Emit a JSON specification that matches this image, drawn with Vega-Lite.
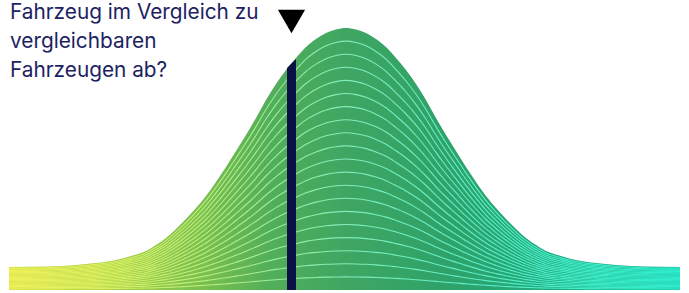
{
  "$schema": "https://vega.github.io/schema/vega-lite/v6.json",
  "autosize": "none",
  "width": 689,
  "height": 290,
  "padding": {"left": 0, "top": 0, "right": 0, "bottom": 3},
  "background": "white",
  "config": {"view": {"stroke": null}},
  "datasets": {
    "curve": [
      {"x": 9, "h": 23}, {"x": 46, "h": 23.5}, {"x": 76, "h": 25}, {"x": 96, "h": 27}, {"x": 116, "h": 30},
      {"x": 131, "h": 34}, {"x": 146, "h": 39}, {"x": 156, "h": 45}, {"x": 166, "h": 52}, {"x": 176, "h": 61},
      {"x": 186, "h": 71}, {"x": 196, "h": 82}, {"x": 206, "h": 94}, {"x": 216, "h": 108}, {"x": 226, "h": 123},
      {"x": 236, "h": 139}, {"x": 246, "h": 155}, {"x": 256, "h": 172}, {"x": 266, "h": 190}, {"x": 276, "h": 206},
      {"x": 286, "h": 220}, {"x": 296, "h": 232}, {"x": 306, "h": 243}, {"x": 316, "h": 251}, {"x": 326, "h": 257},
      {"x": 336, "h": 260.5}, {"x": 346, "h": 262}, {"x": 356, "h": 260.5}, {"x": 366, "h": 257}, {"x": 376, "h": 251},
      {"x": 386, "h": 243}, {"x": 396, "h": 232}, {"x": 406, "h": 220}, {"x": 416, "h": 206}, {"x": 426, "h": 190},
      {"x": 436, "h": 172}, {"x": 446, "h": 155}, {"x": 456, "h": 139}, {"x": 466, "h": 123}, {"x": 476, "h": 108},
      {"x": 486, "h": 94}, {"x": 496, "h": 82}, {"x": 506, "h": 71}, {"x": 516, "h": 61}, {"x": 526, "h": 52},
      {"x": 536, "h": 45}, {"x": 546, "h": 39}, {"x": 561, "h": 34}, {"x": 576, "h": 30}, {"x": 596, "h": 27},
      {"x": 616, "h": 25}, {"x": 646, "h": 23.5}, {"x": 680, "h": 23}
    ],
    "bar": [{"x": 287, "h": 222}, {"x": 296, "h": 231}],
    "marker": [{"x": 291.5, "label": "Fahrzeug im Vergleich zu|vergleichbaren|Fahrzeugen ab?"}]
  },
  "encoding": {
    "x": {"field": "x", "type": "quantitative", "scale": {"domain": [0, 689], "nice": false, "zero": false}, "axis": null}
  },
  "layer": [
    {
      "data": {"name": "curve"},
      "mark": {"type": "area", "interpolate": "monotone", "color": {"gradient": "linear", "x1": 0, "x2": 1, "y1": 0, "y2": 0, "stops": [
        {"offset": 0, "color": "#cadc40"}, {"offset": 0.136, "color": "#acd046"}, {"offset": 0.285, "color": "#7cc050"},
        {"offset": 0.39, "color": "#52ae5a"}, {"offset": 0.5, "color": "#3fa662"}, {"offset": 0.655, "color": "#2ea26a"},
        {"offset": 0.82, "color": "#22aa80"}, {"offset": 1, "color": "#1cbc9c"}]}},
      "encoding": {"y": {"field": "h", "type": "quantitative", "scale": {"domain": [0, 290], "nice": false}, "axis": null}}
    },
    {"data": {"name": "curve"}, "mark": {"type": "line", "interpolate": "monotone", "strokeWidth": 1.1, "stroke": {"gradient": "linear", "x1": 0, "x2": 1, "y1": 0, "y2": 0, "stops": [{"offset": 0, "color": "#eef05a"}, {"offset": 0.15, "color": "#daf060"}, {"offset": 0.3, "color": "#b8ee7c"}, {"offset": 0.4, "color": "#9cec9c"}, {"offset": 0.5, "color": "#80ecb8"}, {"offset": 0.65, "color": "#64eec4"}, {"offset": 0.82, "color": "#44eec8"}, {"offset": 1, "color": "#2ceccc"}]}}, "encoding": {"y": {"field": "h", "type": "quantitative", "scale": {"domain": [0, 5800], "nice": false}, "axis": null}}},
    {"data": {"name": "curve"}, "mark": {"type": "line", "interpolate": "monotone", "strokeWidth": 1.1, "stroke": {"gradient": "linear", "x1": 0, "x2": 1, "y1": 0, "y2": 0, "stops": [{"offset": 0, "color": "#eef05a"}, {"offset": 0.15, "color": "#daf060"}, {"offset": 0.3, "color": "#b8ee7c"}, {"offset": 0.4, "color": "#9cec9c"}, {"offset": 0.5, "color": "#80ecb8"}, {"offset": 0.65, "color": "#64eec4"}, {"offset": 0.82, "color": "#44eec8"}, {"offset": 1, "color": "#2ceccc"}]}}, "encoding": {"y": {"field": "h", "type": "quantitative", "scale": {"domain": [0, 2900], "nice": false}, "axis": null}}},
    {"data": {"name": "curve"}, "mark": {"type": "line", "interpolate": "monotone", "strokeWidth": 1.1, "stroke": {"gradient": "linear", "x1": 0, "x2": 1, "y1": 0, "y2": 0, "stops": [{"offset": 0, "color": "#eef05a"}, {"offset": 0.15, "color": "#daf060"}, {"offset": 0.3, "color": "#b8ee7c"}, {"offset": 0.4, "color": "#9cec9c"}, {"offset": 0.5, "color": "#80ecb8"}, {"offset": 0.65, "color": "#64eec4"}, {"offset": 0.82, "color": "#44eec8"}, {"offset": 1, "color": "#2ceccc"}]}}, "encoding": {"y": {"field": "h", "type": "quantitative", "scale": {"domain": [0, 1933.33], "nice": false}, "axis": null}}},
    {"data": {"name": "curve"}, "mark": {"type": "line", "interpolate": "monotone", "strokeWidth": 1.1, "stroke": {"gradient": "linear", "x1": 0, "x2": 1, "y1": 0, "y2": 0, "stops": [{"offset": 0, "color": "#eef05a"}, {"offset": 0.15, "color": "#daf060"}, {"offset": 0.3, "color": "#b8ee7c"}, {"offset": 0.4, "color": "#9cec9c"}, {"offset": 0.5, "color": "#80ecb8"}, {"offset": 0.65, "color": "#64eec4"}, {"offset": 0.82, "color": "#44eec8"}, {"offset": 1, "color": "#2ceccc"}]}}, "encoding": {"y": {"field": "h", "type": "quantitative", "scale": {"domain": [0, 1450], "nice": false}, "axis": null}}},
    {"data": {"name": "curve"}, "mark": {"type": "line", "interpolate": "monotone", "strokeWidth": 1.1, "stroke": {"gradient": "linear", "x1": 0, "x2": 1, "y1": 0, "y2": 0, "stops": [{"offset": 0, "color": "#eef05a"}, {"offset": 0.15, "color": "#daf060"}, {"offset": 0.3, "color": "#b8ee7c"}, {"offset": 0.4, "color": "#9cec9c"}, {"offset": 0.5, "color": "#80ecb8"}, {"offset": 0.65, "color": "#64eec4"}, {"offset": 0.82, "color": "#44eec8"}, {"offset": 1, "color": "#2ceccc"}]}}, "encoding": {"y": {"field": "h", "type": "quantitative", "scale": {"domain": [0, 1160], "nice": false}, "axis": null}}},
    {"data": {"name": "curve"}, "mark": {"type": "line", "interpolate": "monotone", "strokeWidth": 1.1, "stroke": {"gradient": "linear", "x1": 0, "x2": 1, "y1": 0, "y2": 0, "stops": [{"offset": 0, "color": "#eef05a"}, {"offset": 0.15, "color": "#daf060"}, {"offset": 0.3, "color": "#b8ee7c"}, {"offset": 0.4, "color": "#9cec9c"}, {"offset": 0.5, "color": "#80ecb8"}, {"offset": 0.65, "color": "#64eec4"}, {"offset": 0.82, "color": "#44eec8"}, {"offset": 1, "color": "#2ceccc"}]}}, "encoding": {"y": {"field": "h", "type": "quantitative", "scale": {"domain": [0, 966.67], "nice": false}, "axis": null}}},
    {"data": {"name": "curve"}, "mark": {"type": "line", "interpolate": "monotone", "strokeWidth": 1.1, "stroke": {"gradient": "linear", "x1": 0, "x2": 1, "y1": 0, "y2": 0, "stops": [{"offset": 0, "color": "#eef05a"}, {"offset": 0.15, "color": "#daf060"}, {"offset": 0.3, "color": "#b8ee7c"}, {"offset": 0.4, "color": "#9cec9c"}, {"offset": 0.5, "color": "#80ecb8"}, {"offset": 0.65, "color": "#64eec4"}, {"offset": 0.82, "color": "#44eec8"}, {"offset": 1, "color": "#2ceccc"}]}}, "encoding": {"y": {"field": "h", "type": "quantitative", "scale": {"domain": [0, 828.57], "nice": false}, "axis": null}}},
    {"data": {"name": "curve"}, "mark": {"type": "line", "interpolate": "monotone", "strokeWidth": 1.1, "stroke": {"gradient": "linear", "x1": 0, "x2": 1, "y1": 0, "y2": 0, "stops": [{"offset": 0, "color": "#eef05a"}, {"offset": 0.15, "color": "#daf060"}, {"offset": 0.3, "color": "#b8ee7c"}, {"offset": 0.4, "color": "#9cec9c"}, {"offset": 0.5, "color": "#80ecb8"}, {"offset": 0.65, "color": "#64eec4"}, {"offset": 0.82, "color": "#44eec8"}, {"offset": 1, "color": "#2ceccc"}]}}, "encoding": {"y": {"field": "h", "type": "quantitative", "scale": {"domain": [0, 725], "nice": false}, "axis": null}}},
    {"data": {"name": "curve"}, "mark": {"type": "line", "interpolate": "monotone", "strokeWidth": 1.1, "stroke": {"gradient": "linear", "x1": 0, "x2": 1, "y1": 0, "y2": 0, "stops": [{"offset": 0, "color": "#eef05a"}, {"offset": 0.15, "color": "#daf060"}, {"offset": 0.3, "color": "#b8ee7c"}, {"offset": 0.4, "color": "#9cec9c"}, {"offset": 0.5, "color": "#80ecb8"}, {"offset": 0.65, "color": "#64eec4"}, {"offset": 0.82, "color": "#44eec8"}, {"offset": 1, "color": "#2ceccc"}]}}, "encoding": {"y": {"field": "h", "type": "quantitative", "scale": {"domain": [0, 644.44], "nice": false}, "axis": null}}},
    {"data": {"name": "curve"}, "mark": {"type": "line", "interpolate": "monotone", "strokeWidth": 1.1, "stroke": {"gradient": "linear", "x1": 0, "x2": 1, "y1": 0, "y2": 0, "stops": [{"offset": 0, "color": "#eef05a"}, {"offset": 0.15, "color": "#daf060"}, {"offset": 0.3, "color": "#b8ee7c"}, {"offset": 0.4, "color": "#9cec9c"}, {"offset": 0.5, "color": "#80ecb8"}, {"offset": 0.65, "color": "#64eec4"}, {"offset": 0.82, "color": "#44eec8"}, {"offset": 1, "color": "#2ceccc"}]}}, "encoding": {"y": {"field": "h", "type": "quantitative", "scale": {"domain": [0, 580], "nice": false}, "axis": null}}},
    {"data": {"name": "curve"}, "mark": {"type": "line", "interpolate": "monotone", "strokeWidth": 1.1, "stroke": {"gradient": "linear", "x1": 0, "x2": 1, "y1": 0, "y2": 0, "stops": [{"offset": 0, "color": "#eef05a"}, {"offset": 0.15, "color": "#daf060"}, {"offset": 0.3, "color": "#b8ee7c"}, {"offset": 0.4, "color": "#9cec9c"}, {"offset": 0.5, "color": "#80ecb8"}, {"offset": 0.65, "color": "#64eec4"}, {"offset": 0.82, "color": "#44eec8"}, {"offset": 1, "color": "#2ceccc"}]}}, "encoding": {"y": {"field": "h", "type": "quantitative", "scale": {"domain": [0, 527.27], "nice": false}, "axis": null}}},
    {"data": {"name": "curve"}, "mark": {"type": "line", "interpolate": "monotone", "strokeWidth": 1.1, "stroke": {"gradient": "linear", "x1": 0, "x2": 1, "y1": 0, "y2": 0, "stops": [{"offset": 0, "color": "#eef05a"}, {"offset": 0.15, "color": "#daf060"}, {"offset": 0.3, "color": "#b8ee7c"}, {"offset": 0.4, "color": "#9cec9c"}, {"offset": 0.5, "color": "#80ecb8"}, {"offset": 0.65, "color": "#64eec4"}, {"offset": 0.82, "color": "#44eec8"}, {"offset": 1, "color": "#2ceccc"}]}}, "encoding": {"y": {"field": "h", "type": "quantitative", "scale": {"domain": [0, 483.33], "nice": false}, "axis": null}}},
    {"data": {"name": "curve"}, "mark": {"type": "line", "interpolate": "monotone", "strokeWidth": 1.1, "stroke": {"gradient": "linear", "x1": 0, "x2": 1, "y1": 0, "y2": 0, "stops": [{"offset": 0, "color": "#eef05a"}, {"offset": 0.15, "color": "#daf060"}, {"offset": 0.3, "color": "#b8ee7c"}, {"offset": 0.4, "color": "#9cec9c"}, {"offset": 0.5, "color": "#80ecb8"}, {"offset": 0.65, "color": "#64eec4"}, {"offset": 0.82, "color": "#44eec8"}, {"offset": 1, "color": "#2ceccc"}]}}, "encoding": {"y": {"field": "h", "type": "quantitative", "scale": {"domain": [0, 446.15], "nice": false}, "axis": null}}},
    {"data": {"name": "curve"}, "mark": {"type": "line", "interpolate": "monotone", "strokeWidth": 1.1, "stroke": {"gradient": "linear", "x1": 0, "x2": 1, "y1": 0, "y2": 0, "stops": [{"offset": 0, "color": "#eef05a"}, {"offset": 0.15, "color": "#daf060"}, {"offset": 0.3, "color": "#b8ee7c"}, {"offset": 0.4, "color": "#9cec9c"}, {"offset": 0.5, "color": "#80ecb8"}, {"offset": 0.65, "color": "#64eec4"}, {"offset": 0.82, "color": "#44eec8"}, {"offset": 1, "color": "#2ceccc"}]}}, "encoding": {"y": {"field": "h", "type": "quantitative", "scale": {"domain": [0, 414.29], "nice": false}, "axis": null}}},
    {"data": {"name": "curve"}, "mark": {"type": "line", "interpolate": "monotone", "strokeWidth": 1.1, "stroke": {"gradient": "linear", "x1": 0, "x2": 1, "y1": 0, "y2": 0, "stops": [{"offset": 0, "color": "#eef05a"}, {"offset": 0.15, "color": "#daf060"}, {"offset": 0.3, "color": "#b8ee7c"}, {"offset": 0.4, "color": "#9cec9c"}, {"offset": 0.5, "color": "#80ecb8"}, {"offset": 0.65, "color": "#64eec4"}, {"offset": 0.82, "color": "#44eec8"}, {"offset": 1, "color": "#2ceccc"}]}}, "encoding": {"y": {"field": "h", "type": "quantitative", "scale": {"domain": [0, 386.67], "nice": false}, "axis": null}}},
    {"data": {"name": "curve"}, "mark": {"type": "line", "interpolate": "monotone", "strokeWidth": 1.1, "stroke": {"gradient": "linear", "x1": 0, "x2": 1, "y1": 0, "y2": 0, "stops": [{"offset": 0, "color": "#eef05a"}, {"offset": 0.15, "color": "#daf060"}, {"offset": 0.3, "color": "#b8ee7c"}, {"offset": 0.4, "color": "#9cec9c"}, {"offset": 0.5, "color": "#80ecb8"}, {"offset": 0.65, "color": "#64eec4"}, {"offset": 0.82, "color": "#44eec8"}, {"offset": 1, "color": "#2ceccc"}]}}, "encoding": {"y": {"field": "h", "type": "quantitative", "scale": {"domain": [0, 362.5], "nice": false}, "axis": null}}},
    {"data": {"name": "curve"}, "mark": {"type": "line", "interpolate": "monotone", "strokeWidth": 1.1, "stroke": {"gradient": "linear", "x1": 0, "x2": 1, "y1": 0, "y2": 0, "stops": [{"offset": 0, "color": "#eef05a"}, {"offset": 0.15, "color": "#daf060"}, {"offset": 0.3, "color": "#b8ee7c"}, {"offset": 0.4, "color": "#9cec9c"}, {"offset": 0.5, "color": "#80ecb8"}, {"offset": 0.65, "color": "#64eec4"}, {"offset": 0.82, "color": "#44eec8"}, {"offset": 1, "color": "#2ceccc"}]}}, "encoding": {"y": {"field": "h", "type": "quantitative", "scale": {"domain": [0, 341.18], "nice": false}, "axis": null}}},
    {"data": {"name": "curve"}, "mark": {"type": "line", "interpolate": "monotone", "strokeWidth": 1.1, "stroke": {"gradient": "linear", "x1": 0, "x2": 1, "y1": 0, "y2": 0, "stops": [{"offset": 0, "color": "#eef05a"}, {"offset": 0.15, "color": "#daf060"}, {"offset": 0.3, "color": "#b8ee7c"}, {"offset": 0.4, "color": "#9cec9c"}, {"offset": 0.5, "color": "#80ecb8"}, {"offset": 0.65, "color": "#64eec4"}, {"offset": 0.82, "color": "#44eec8"}, {"offset": 1, "color": "#2ceccc"}]}}, "encoding": {"y": {"field": "h", "type": "quantitative", "scale": {"domain": [0, 322.22], "nice": false}, "axis": null}}},
    {"data": {"name": "curve"}, "mark": {"type": "line", "interpolate": "monotone", "strokeWidth": 1.1, "stroke": {"gradient": "linear", "x1": 0, "x2": 1, "y1": 0, "y2": 0, "stops": [{"offset": 0, "color": "#eef05a"}, {"offset": 0.15, "color": "#daf060"}, {"offset": 0.3, "color": "#b8ee7c"}, {"offset": 0.4, "color": "#9cec9c"}, {"offset": 0.5, "color": "#80ecb8"}, {"offset": 0.65, "color": "#64eec4"}, {"offset": 0.82, "color": "#44eec8"}, {"offset": 1, "color": "#2ceccc"}]}}, "encoding": {"y": {"field": "h", "type": "quantitative", "scale": {"domain": [0, 305.26], "nice": false}, "axis": null}}},
    {
      "data": {"name": "bar"},
      "mark": {"type": "area", "color": "#0b1046"},
      "encoding": {"y": {"field": "h", "type": "quantitative", "scale": {"domain": [0, 290], "nice": false}, "axis": null}}
    },
    {
      "data": {"name": "marker"},
      "mark": {"type": "point", "shape": "triangle-down", "filled": true, "color": "#000000", "size": 740, "opacity": 1},
      "encoding": {"y": {"datum": 268.5, "type": "quantitative", "scale": {"domain": [0, 290], "nice": false}, "axis": null}}
    },
    {
      "data": {"name": "marker"},
      "mark": {"type": "text", "align": "left", "baseline": "alphabetic", "lineBreak": "|", "lineHeight": 29, "font": "Inter", "fontSize": 20.8, "fill": "#1c2262"},
      "encoding": {
        "x": {"datum": 10, "type": "quantitative"},
        "y": {"datum": 271, "type": "quantitative", "scale": {"domain": [0, 290], "nice": false}, "axis": null},
        "text": {"field": "label", "type": "nominal"}
      }
    }
  ],
  "resolve": {"scale": {"y": "independent"}}
}
